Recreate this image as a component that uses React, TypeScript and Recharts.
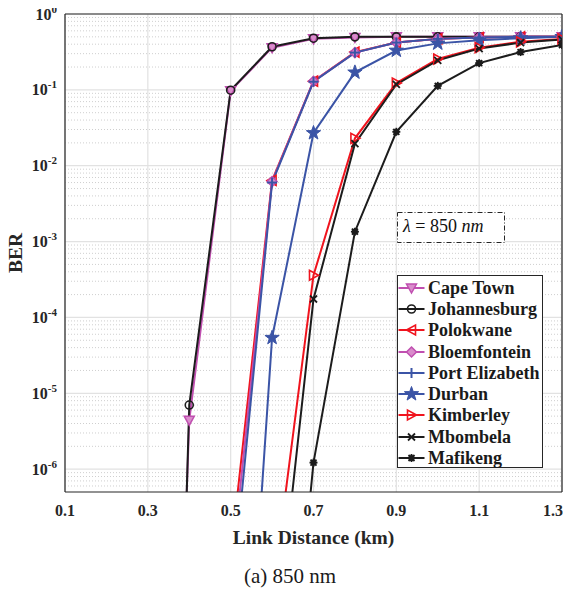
import React from 'react';
import { LineChart, Line, XAxis, YAxis, CartesianGrid, Legend } from 'recharts';

// ---------- data ----------
const distances = [0.3, 0.4, 0.5, 0.6, 0.7, 0.8, 0.9, 1.0, 1.1, 1.2, 1.3];

const capeTown = [1e-21, 4.4e-6, 0.097, 0.36, 0.47, 0.49, 0.5, 0.5, 0.5, 0.5, 0.5];
const johannesburg = [1e-24, 7.0e-6, 0.099, 0.37, 0.48, 0.5, 0.5, 0.5, 0.5, 0.5, 0.5];
const polokwane = [null, null, 7.2e-8, 6.4e-3, 0.13, 0.315, 0.42, 0.47, 0.49, 0.5, 0.5];
const bloemfontein = [null, null, 3.5e-8, 6.2e-3, 0.13, 0.31, 0.42, 0.47, 0.49, 0.5, 0.5];
const portElizabeth = [null, null, 1.5e-8, 6.0e-3, 0.128, 0.31, 0.42, 0.47, 0.49, 0.5, 0.5];
const durban = [null, null, 4e-13, 5.4e-5, 0.027, 0.17, 0.33, 0.41, 0.45, 0.48, 0.5];
const kimberley = [null, null, null, 2e-8, 3.6e-4, 0.023, 0.123, 0.255, 0.36, 0.43, 0.47];
const mbombela = [null, null, null, 1.8e-9, 1.75e-4, 0.0195, 0.118, 0.245, 0.35, 0.42, 0.46];
const mafikeng = [null, null, null, 3e-12, 1.22e-6, 1.35e-3, 0.028, 0.113, 0.225, 0.315, 0.39];

const xTicks = [0.1, 0.3, 0.5, 0.7, 0.9, 1.1, 1.3];
const xTickLabels = ['0.1', '0.3', '0.5', '0.7', '0.9', '1.1', '1.3'];
const yTicks = [1e-6, 1e-5, 1e-4, 1e-3, 1e-2, 1e-1, 1];
const yTickExponents = ['-6', '-5', '-4', '-3', '-2', '-1', '0'];
const minorMantissas = [2, 3, 4, 5, 6, 7, 8, 9];
const minorDecades = [-7, -6, -5, -4, -3, -2, -1];

const Y_MIN = 5e-7;
const Y_MAX = 1;
const X_MIN = 0.1;
const X_MAX = 1.3;

const minorTicks: number[] = [];
minorDecades.forEach((e) => {
  minorMantissas.forEach((m) => {
    const v = Number((m * Math.pow(10, e)).toPrecision(3));
    if (v > Y_MIN && v < Y_MAX) minorTicks.push(v);
  });
});

// ---------- styles ----------
const MAGENTA = '#C04FB0';
const MAGENTA_FILL = '#D98CCB';
const RED = '#F0141E';
const BLUE = '#3B54A6';
const BLACK = '#1C1C1C';
const AXIS = '#262626';
const FONT = '"Liberation Serif", "Times New Roman", serif';

type Series = { key: string; name: string; values: (number | null)[]; color: string; marker: string };

const series: Series[] = [
  { key: 'capeTown', name: 'Cape Town', values: capeTown, color: MAGENTA, marker: 'down' },
  { key: 'johannesburg', name: 'Johannesburg', values: johannesburg, color: BLACK, marker: 'circle' },
  { key: 'polokwane', name: 'Polokwane', values: polokwane, color: RED, marker: 'left' },
  { key: 'bloemfontein', name: 'Bloemfontein', values: bloemfontein, color: MAGENTA, marker: 'diamond' },
  { key: 'portElizabeth', name: 'Port Elizabeth', values: portElizabeth, color: BLUE, marker: 'plus' },
  { key: 'durban', name: 'Durban', values: durban, color: BLUE, marker: 'star' },
  { key: 'kimberley', name: 'Kimberley', values: kimberley, color: RED, marker: 'right' },
  { key: 'mbombela', name: 'Mbombela', values: mbombela, color: BLACK, marker: 'x' },
  { key: 'mafikeng', name: 'Mafikeng', values: mafikeng, color: BLACK, marker: 'asterisk' },
];

const rows = distances.map((d, i) => {
  const r: Record<string, number | null> = { x: d };
  series.forEach((s) => {
    const v = s.values[i];
    r[s.key] = v;
    r[s.key + '_m'] = v != null && v >= Y_MIN ? v : null;
  });
  return r;
});

// ---------- markers ----------
function starPoints(cx: number, cy: number, ro: number, ri: number) {
  const pts: string[] = [];
  for (let k = 0; k < 10; k++) {
    const r = k % 2 === 0 ? ro : ri;
    const a = -Math.PI / 2 + (k * Math.PI) / 5;
    pts.push(`${cx + r * Math.cos(a)},${cy + r * Math.sin(a)}`);
  }
  return pts.join(' ');
}

function MarkerShape({ shape, cx, cy, color }: { shape: string; cx: number; cy: number; color: string }) {
  switch (shape) {
    case 'down':
      return <polygon points={`${cx - 5},${cy - 4} ${cx + 5},${cy - 4} ${cx},${cy + 5}`} fill={MAGENTA_FILL} stroke={color} strokeWidth={1.5} />;
    case 'circle':
      return <circle cx={cx} cy={cy} r={4} fill="none" stroke={color} strokeWidth={1.6} />;
    case 'left':
      return <polygon points={`${cx - 5},${cy} ${cx + 4},${cy - 5} ${cx + 4},${cy + 5}`} fill="none" stroke={color} strokeWidth={1.6} />;
    case 'right':
      return <polygon points={`${cx + 5},${cy} ${cx - 4},${cy - 5} ${cx - 4},${cy + 5}`} fill="none" stroke={color} strokeWidth={1.6} />;
    case 'diamond':
      return <polygon points={`${cx},${cy - 5} ${cx + 5},${cy} ${cx},${cy + 5} ${cx - 5},${cy}`} fill={MAGENTA_FILL} stroke={color} strokeWidth={1.5} />;
    case 'plus':
      return (
        <g stroke={color} strokeWidth={2}>
          <line x1={cx - 5} y1={cy} x2={cx + 5} y2={cy} />
          <line x1={cx} y1={cy - 5} x2={cx} y2={cy + 5} />
        </g>
      );
    case 'star':
      return <polygon points={starPoints(cx, cy, 7.5, 3)} fill={color} stroke={color} strokeWidth={1} />;
    case 'x':
      return (
        <g stroke={color} strokeWidth={1.8}>
          <line x1={cx - 3.5} y1={cy - 3.5} x2={cx + 3.5} y2={cy + 3.5} />
          <line x1={cx - 3.5} y1={cy + 3.5} x2={cx + 3.5} y2={cy - 3.5} />
        </g>
      );
    case 'asterisk':
      return (
        <g stroke={color} strokeWidth={1.8}>
          <line x1={cx - 4} y1={cy} x2={cx + 4} y2={cy} />
          <line x1={cx} y1={cy - 4} x2={cx} y2={cy + 4} />
          <line x1={cx - 3} y1={cy - 3} x2={cx + 3} y2={cy + 3} />
          <line x1={cx - 3} y1={cy + 3} x2={cx + 3} y2={cy - 3} />
          <circle cx={cx} cy={cy} r={2.2} fill={color} />
        </g>
      );
    default:
      return null;
  }
}

// ---------- axis pieces ----------
const XTick = (props: any) => {
  const { x, y, payload } = props;
  const idx = xTicks.indexOf(payload.value);
  const label = idx >= 0 ? xTickLabels[idx] : String(payload.value);
  const last = idx === xTicks.length - 1;
  return (
    <text x={last ? x - 9 : x} y={y + 24} textAnchor="middle" fontFamily={FONT} fontWeight="bold" fontSize={16} fill={AXIS}>
      {label}
    </text>
  );
};

const YTick = (props: any) => {
  const { x, y, payload } = props;
  const idx = yTicks.indexOf(payload.value);
  const exp = idx >= 0 ? yTickExponents[idx] : String(Math.round(Math.log10(payload.value)));
  return (
    <text x={x} y={y + 5.5} textAnchor="end" fontFamily={FONT} fontWeight="bold" fontSize={16} fill={AXIS}>
      <tspan>10</tspan>
      <tspan dy={-7} fontSize={11}>{exp}</tspan>
    </text>
  );
};

const XLabel = (props: any) => {
  const vb = props.viewBox || {};
  return (
    <text x={vb.x + vb.width / 2} y={vb.y + 52} textAnchor="middle" fontFamily={FONT} fontWeight="bold" fontSize={19.5} fill={AXIS}>
      Link Distance (km)
    </text>
  );
};

const YLabel = (props: any) => {
  const vb = props.viewBox || {};
  const cx = vb.x + 14;
  const cy = vb.y + vb.height / 2;
  return (
    <text x={cx} y={cy} transform={`rotate(-90 ${cx} ${cy})`} textAnchor="middle" fontFamily={FONT} fontWeight="bold" fontSize={19.5} fill={AXIS}>
      BER
    </text>
  );
};

const LegendBox = () => (
  <div
    style={{
      width: 146,
      height: 193,
      border: `1px solid ${AXIS}`,
      background: '#fff',
      boxSizing: 'border-box',
      paddingTop: 1,
      fontFamily: FONT,
      fontWeight: 'bold',
      fontSize: 18,
      color: '#1a1a1a',
    }}
  >
    {series.map((s) => (
      <div key={s.key} style={{ height: 21.3, display: 'flex', alignItems: 'center' }}>
        <svg width={27} height={20} style={{ flex: 'none', display: 'block' }}>
          <line x1={0.5} y1={10} x2={26.5} y2={10} stroke={s.color} strokeWidth={2} />
          <MarkerShape shape={s.marker} cx={13.5} cy={10} color={s.color} />
        </svg>
        <span style={{ marginLeft: 3, whiteSpace: 'nowrap', lineHeight: 1 }}>{s.name}</span>
      </div>
    ))}
  </div>
);

export default function App() {
  return (
    <div style={{ position: 'relative', width: 563, height: 593, margin: '-8px 0 0 -8px', overflow: 'visible' }}>
      <LineChart width={571} height={593} data={rows} margin={{ top: 14, right: 9, bottom: 31, left: 8 }}>
        <CartesianGrid vertical={false} horizontalValues={minorTicks} stroke="#cfcfcf" strokeDasharray="1 2" />
        <CartesianGrid horizontalValues={yTicks} verticalValues={xTicks} stroke="#e2e2e2" strokeWidth={1.2} />

        <XAxis
          xAxisId={0}
          dataKey="x"
          type="number"
          domain={[X_MIN, X_MAX]}
          ticks={xTicks}
          interval={0}
          allowDataOverflow
          tickLine={false}
          tickSize={0}
          tickMargin={0}
          axisLine={{ stroke: AXIS, strokeWidth: 1.2 }}
          tick={<XTick />}
          height={70}
          label={XLabel}
        />
        <XAxis xAxisId="bt" type="number" domain={[X_MIN, X_MAX]} ticks={xTicks} interval={0} allowDataOverflow mirror orientation="bottom" tick={false} tickSize={5} tickLine={{ stroke: AXIS }} axisLine={false} />
        <XAxis xAxisId="tp" type="number" domain={[X_MIN, X_MAX]} ticks={xTicks} interval={0} allowDataOverflow mirror orientation="top" tick={false} tickSize={5} tickLine={{ stroke: AXIS }} axisLine={{ stroke: AXIS, strokeWidth: 1.2 }} />

        <YAxis
          yAxisId={0}
          type="number"
          scale="log"
          domain={[Y_MIN, Y_MAX]}
          allowDataOverflow
          ticks={yTicks}
          interval={0}
          tick={<YTick />}
          tickLine={false}
          tickSize={0}
          tickMargin={8}
          axisLine={{ stroke: AXIS, strokeWidth: 1.2 }}
          width={57}
          label={YLabel}
        />
        <YAxis yAxisId="lmaj" type="number" scale="log" domain={[Y_MIN, Y_MAX]} allowDataOverflow ticks={yTicks} interval={0} mirror orientation="left" tick={false} tickSize={5} tickLine={{ stroke: AXIS }} axisLine={false} />
        <YAxis yAxisId="lmin" type="number" scale="log" domain={[Y_MIN, Y_MAX]} allowDataOverflow ticks={minorTicks} interval={0} mirror orientation="left" tick={false} tickSize={3} tickLine={{ stroke: AXIS }} axisLine={false} />
        <YAxis yAxisId="rmaj" type="number" scale="log" domain={[Y_MIN, Y_MAX]} allowDataOverflow ticks={yTicks} interval={0} mirror orientation="right" tick={false} tickSize={5} tickLine={{ stroke: AXIS }} axisLine={{ stroke: AXIS, strokeWidth: 1.2 }} />
        <YAxis yAxisId="rmin" type="number" scale="log" domain={[Y_MIN, Y_MAX]} allowDataOverflow ticks={minorTicks} interval={0} mirror orientation="right" tick={false} tickSize={3} tickLine={{ stroke: AXIS }} axisLine={false} />
        <YAxis yAxisId="mk" type="number" scale="log" domain={[Y_MIN, Y_MAX]} hide />

        {series.map((s) => (
          <Line
            key={s.key}
            yAxisId={0}
            xAxisId={0}
            dataKey={s.key}
            name={s.name}
            stroke={s.color}
            strokeWidth={2}
            dot={false}
            activeDot={false}
            isAnimationActive={false}
            legendType="none"
          />
        ))}
        {series.map((s) => (
          <Line
            key={s.key + '_m'}
            yAxisId="mk"
            xAxisId={0}
            dataKey={s.key + '_m'}
            stroke="none"
            strokeWidth={0}
            activeDot={false}
            isAnimationActive={false}
            legendType="none"
            dot={(p: any) => {
              const k = `${s.key}-dot-${p.index}`;
              if (p.cx == null || p.cy == null || p.value == null) return <g key={k} />;
              return (
                <g key={k}>
                  <MarkerShape shape={s.marker} cx={p.cx} cy={p.cy} color={s.color} />
                </g>
              );
            }}
          />
        ))}

        <Legend
          layout="vertical"
          align="center"
          verticalAlign="middle"
          wrapperStyle={{ left: 397, top: 275, width: 146, height: 193 }}
          content={LegendBox}
        />
      </LineChart>

      <svg width={571} height={593} style={{ position: 'absolute', left: 0, top: 0, pointerEvents: 'none' }}>
        <rect x={397.5} y={212.5} width={107} height={30} fill="#fff" stroke={AXIS} strokeWidth={1} strokeDasharray="5 2 1 2" />
        <text x={403} y={231.5} fontFamily={FONT} fontSize={18} fill="#111" style={{ whiteSpace: 'pre' }}>
          <tspan fontStyle="italic">λ</tspan>
          <tspan> = 850 </tspan>
          <tspan fontStyle="italic">nm</tspan>
        </text>
        <text x={290} y={583} textAnchor="middle" fontFamily={FONT} fontSize={21} fill="#1a1a1a">
          (a) 850 nm
        </text>
      </svg>
    </div>
  );
}
